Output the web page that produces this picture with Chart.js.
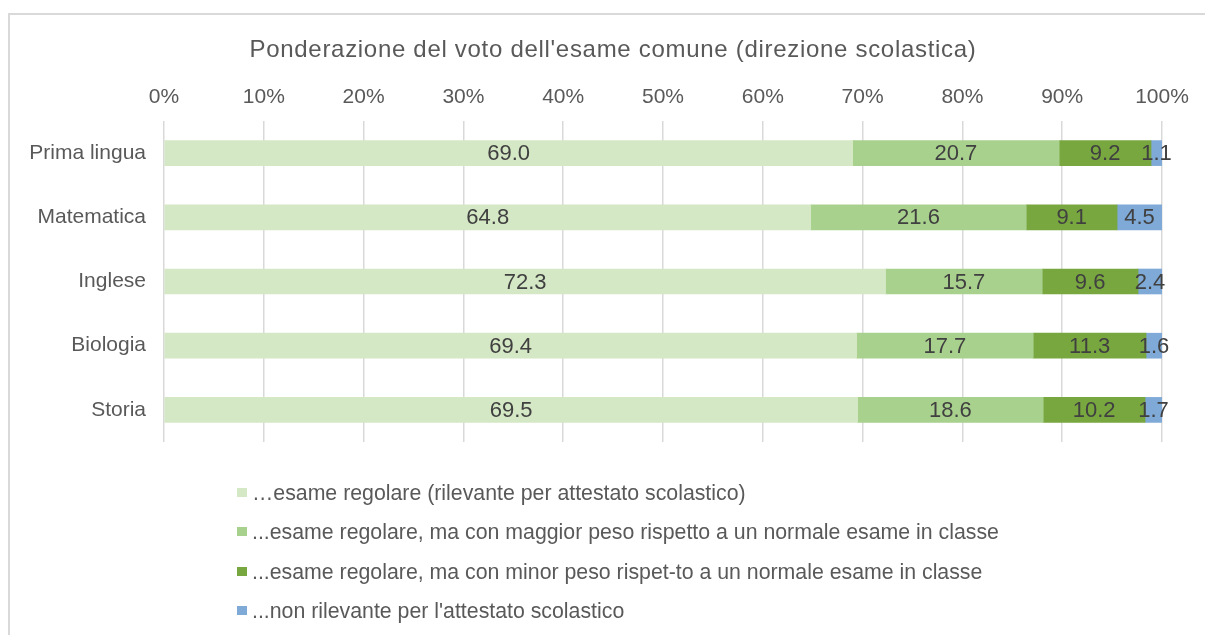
<!DOCTYPE html>
<html>
<head>
<meta charset="utf-8">
<script src="https://cdn.jsdelivr.net/npm/chart.js@4/dist/chart.umd.min.js"></script>
<style>
  html, body { margin: 0; padding: 0; background: #fff; overflow: hidden; }
  #wrap { position: relative; width: 1205px; height: 635px; }
  #frame { position: absolute; left: 8px; top: 13px; width: 1300px; height: 700px;
           border-top: 2px solid #d9d9d9; border-left: 2px solid #d9d9d9; box-sizing: border-box; }
  canvas { position: absolute; left: 0; top: 0; }
  #legend { position: absolute; left: 0; top: 0; font-family: "Liberation Sans", Arial, sans-serif;
            font-size: 21.3px; color: #595959; }
  .li { position: absolute; left: 237px; white-space: nowrap; height: 24px; line-height: 24px; }
  .li span.box { position: absolute; left: 0; top: 7px; width: 10px; height: 9px; }
  .li span.txt { position: absolute; left: 15px; top: 0; }
</style>
</head>
<body>
<div id="wrap">
  <div id="frame"></div>
  <canvas id="c" width="1205" height="635"></canvas>
  <div id="legend"></div>
</div>
<script>
const chartTitle = "Ponderazione del voto dell'esame comune (direzione scolastica)";
const categories = ['Prima lingua', 'Matematica', 'Inglese', 'Biologia', 'Storia'];
const seriesNames = [
  '\u2026esame regolare (rilevante per attestato scolastico)',
  '...esame regolare, ma con maggior peso rispetto a un normale esame in classe',
  '...esame regolare, ma con minor peso rispet-to a un normale esame in classe',
  "...non rilevante per l'attestato scolastico"
];
const regolare = [69.0, 64.8, 72.3, 69.4, 69.5];
const maggiorPeso = [20.7, 21.6, 15.7, 17.7, 18.6];
const minorPeso = [9.2, 9.1, 9.6, 11.3, 10.2];
const nonRilevante = [1.1, 4.5, 2.4, 1.6, 1.7];
const tickValues = [0, 10, 20, 30, 40, 50, 60, 70, 80, 90, 100];
const colors = ['#D5E8C5', '#A9D18E', '#78A63F', '#7FA9D6'];

const FONT = '"Liberation Sans", Arial, sans-serif';
const TEXT = '#595959';

const seriesValues = [regolare, maggiorPeso, minorPeso, nonRilevante];

const labelPlugin = {
  id: 'segLabels',
  afterDatasetsDraw(chart) {
    const ctx = chart.ctx;
    ctx.save();
    ctx.font = '22px ' + FONT;
    ctx.fillStyle = '#404040';
    ctx.textAlign = 'center';
    ctx.textBaseline = 'middle';
    chart.data.datasets.forEach((ds, i) => {
      const meta = chart.getDatasetMeta(i);
      meta.data.forEach((el, j) => {
        const x = (el.x + el.base) / 2;
        ctx.fillText(ds.data[j].toFixed(1), x, el.y + 1);
      });
    });
    ctx.restore();
  }
};

const titlePlugin = {
  id: 'ownTitle',
  afterDraw(chart) {
    const ctx = chart.ctx;
    ctx.save();
    ctx.font = '24px ' + FONT;
    try { ctx.letterSpacing = '0.7px'; } catch (e) {}
    ctx.fillStyle = TEXT;
    ctx.textAlign = 'center';
    ctx.textBaseline = 'alphabetic';
    ctx.fillText(chartTitle, 613, 57);
    ctx.restore();
  }
};

const chart = new Chart(document.getElementById('c'), {
  type: 'bar',
  data: {
    labels: categories,
    datasets: seriesValues.map((vals, i) => ({
      label: seriesNames[i],
      data: vals,
      backgroundColor: colors[i],
      borderWidth: 0,
      barThickness: 25
    }))
  },
  options: {
    indexAxis: 'y',
    responsive: false,
    animation: false,
    layout: { padding: { left: 0, right: 43, top: 68, bottom: 193 } },
    plugins: {
      legend: { display: false },
      tooltip: { enabled: false },
      title: { display: false }
    },
    scales: {
      x: {
        position: 'top',
        stacked: true,
        min: 0,
        max: 100,
        afterBuildTicks(scale) { scale.ticks = tickValues.map(v => ({ value: v })); },
        afterFit(scale) { scale.height = 53; },
        grid: { color: '#d9d9d9', lineWidth: 1.5, drawTicks: false },
        border: { display: false },
        ticks: {
          color: TEXT,
          font: { family: FONT, size: 21 },
          padding: 11,
          callback: v => v + '%'
        }
      },
      y: {
        stacked: true,
        afterFit(scale) { scale.width = 164; },
        grid: { display: false, drawTicks: false },
        border: { display: false },
        ticks: {
          color: TEXT,
          font: { family: FONT, size: 21 },
          padding: 18
        }
      }
    }
  },
  plugins: [labelPlugin, titlePlugin]
});

// legend
const legendTops = [481, 520, 560, 599];
const legend = document.getElementById('legend');
chart.data.datasets.forEach((ds, i) => {
  const row = document.createElement('div');
  row.className = 'li';
  row.style.top = legendTops[i] + 'px';
  const box = document.createElement('span');
  box.className = 'box';
  box.style.background = ds.backgroundColor;
  const txt = document.createElement('span');
  txt.className = 'txt';
  txt.textContent = ds.label;
  row.appendChild(box);
  row.appendChild(txt);
  legend.appendChild(row);
});
</script>
</body>
</html>
